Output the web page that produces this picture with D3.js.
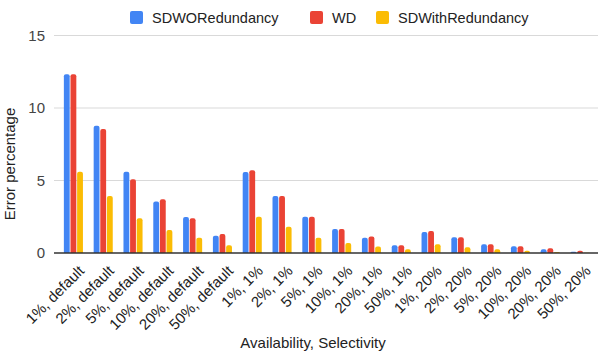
<!DOCTYPE html>
<html>
<head>
<meta charset="utf-8">
<script src="https://cdn.jsdelivr.net/npm/d3@7"></script>
<style>
  body { margin: 0; background: #fff; }
  svg { font-family: Arial, "Liberation Sans", sans-serif; }
</style>
</head>
<body>
<svg id="chart" width="605" height="362"></svg>
<script>
// categories along the x axis
var categories = ["1%, default", "2%, default", "5%, default", "10%, default", "20%, default", "50%, default",
  "1%, 1%", "2%, 1%", "5%, 1%", "10%, 1%", "20%, 1%", "50%, 1%",
  "1%, 20%", "2%, 20%", "5%, 20%", "10%, 20%", "20%, 20%", "50%, 20%"];

var seriesNames = ["SDWORedundancy", "WD", "SDWithRedundancy"];
var seriesColors = ["#4285f4", "#ea4335", "#fbbc04"];

var sdwoRedundancy = [12.32, 8.78, 5.6, 3.56, 2.48, 1.19, 5.59, 3.93, 2.5, 1.66, 1.06, 0.53, 1.45, 1.08, 0.6, 0.46, 0.26, 0.09];
var wd = [12.32, 8.55, 5.08, 3.7, 2.39, 1.31, 5.7, 3.93, 2.5, 1.66, 1.13, 0.53, 1.52, 1.08, 0.6, 0.46, 0.32, 0.16];
var sdWithRedundancy = [5.6, 3.93, 2.39, 1.59, 1.06, 0.53, 2.5, 1.81, 1.06, 0.69, 0.44, 0.26, 0.6, 0.39, 0.26, 0.16, 0.07, 0.02];

var yTicks = [0, 5, 10, 15];

var svg = d3.select("#chart");
var margin = {left: 54, right: 598, top: 35.5, bottom: 253};

var x0 = d3.scaleBand()
    .domain(categories)
    .range([58.5, 595])
    .paddingInner(0.36)
    .paddingOuter(0.18);

var x1 = d3.scaleBand()
    .domain(d3.range(3))
    .range([0, x0.bandwidth()])
    .paddingInner(0.12);

var y = d3.scaleLinear()
    .domain([0, 15])
    .range([margin.bottom, margin.top]);

// gridlines
svg.append("g")
    .selectAll("line")
    .data(yTicks.slice(1))
    .enter().append("line")
    .attr("x1", margin.left)
    .attr("x2", margin.right)
    .attr("y1", function(d) { return y(d); })
    .attr("y2", function(d) { return y(d); })
    .attr("stroke", "#d9d9d9")
    .attr("stroke-width", 1);

// y tick labels
svg.append("g")
    .selectAll("text")
    .data(yTicks)
    .enter().append("text")
    .attr("x", 45)
    .attr("y", function(d) { return y(d); })
    .attr("dy", "0.35em")
    .attr("text-anchor", "end")
    .attr("font-size", 15)
    .attr("fill", "#444")
    .text(function(d) { return d; });

// bars
var seriesData = [sdwoRedundancy, wd, sdWithRedundancy];
var groups = svg.append("g")
    .selectAll("g")
    .data(categories)
    .enter().append("g")
    .attr("transform", function(d) { return "translate(" + x0(d) + ",0)"; });

groups.selectAll("path")
    .data(function(d, i) {
        return seriesData.map(function(s, k) { return {k: k, v: s[i]}; });
    })
    .enter().append("path")
    .attr("fill", function(d) { return seriesColors[d.k]; })
    .attr("d", function(d) {
        var bx = x1(d.k), bw = x1.bandwidth();
        var top = y(d.v), bot = y(0);
        var r = Math.min(2, bw / 2, (bot - top));
        return "M" + bx + "," + bot +
            "V" + (top + r) +
            "Q" + bx + "," + top + " " + (bx + r) + "," + top +
            "H" + (bx + bw - r) +
            "Q" + (bx + bw) + "," + top + " " + (bx + bw) + "," + (top + r) +
            "V" + bot + "Z";
    });

// x axis baseline
svg.append("line")
    .attr("x1", margin.left)
    .attr("x2", margin.right)
    .attr("y1", y(0))
    .attr("y2", y(0))
    .attr("stroke", "#333")
    .attr("stroke-width", 1.3);

// x tick labels, rotated
svg.append("g")
    .selectAll("text")
    .data(categories)
    .enter().append("text")
    .attr("transform", function(d) {
        return "translate(" + (x0(d) + x0.bandwidth() / 2 + 8) + "," + (y(0) + 15) + ") rotate(-45)";
    })
    .attr("text-anchor", "end")
    .attr("dy", "0.35em")
    .attr("font-size", 15)
    .attr("fill", "#222")
    .text(function(d) { return d; });

// axis titles
svg.append("text")
    .attr("x", 313)
    .attr("y", 348)
    .attr("text-anchor", "middle")
    .attr("font-size", 15)
    .attr("fill", "#222")
    .text("Availability, Selectivity");

svg.append("text")
    .attr("transform", "translate(15,164) rotate(-90)")
    .attr("text-anchor", "middle")
    .attr("font-size", 15)
    .attr("fill", "#222")
    .text("Error percentage");

// legend
var legendX = [130, 310, 376];
var legend = svg.append("g")
    .selectAll("g")
    .data(seriesNames)
    .enter().append("g")
    .attr("transform", function(d, i) { return "translate(" + legendX[i] + ",11)"; });

legend.append("rect")
    .attr("width", 13)
    .attr("height", 13)
    .attr("rx", 2)
    .attr("fill", function(d, i) { return seriesColors[i]; });

legend.append("text")
    .attr("x", 22)
    .attr("y", 6.5)
    .attr("dy", "0.35em")
    .attr("font-size", 14.5)
    .attr("fill", "#222")
    .text(function(d) { return d; });
</script>
</body>
</html>
